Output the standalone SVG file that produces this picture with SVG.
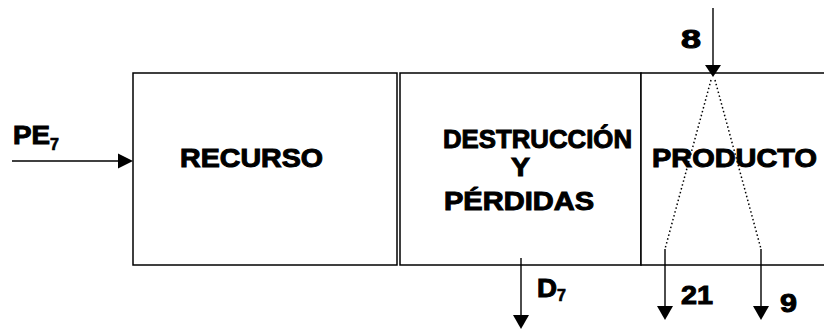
<svg xmlns="http://www.w3.org/2000/svg" width="824" height="329" viewBox="0 0 824 329">
<style>
.box{fill:#fff;stroke:#000;stroke-width:1.5}
.t{font-family:"Liberation Sans",Arial,sans-serif;font-weight:bold;font-size:26px;fill:#000;stroke:#000;stroke-width:1}
.sub{font-size:16px;stroke-width:0.7}
.ln{stroke:#000;stroke-width:1.4;fill:none}
.dot{stroke:#000;stroke-width:1.5;fill:none;stroke-dasharray:1.5 2.5}
.hd{fill:#000}
</style>
<rect width="824" height="329" fill="#fff"/>
<g id="recurso">
<rect class="box" x="133" y="73" width="264" height="192"/>
<text class="t" x="180" y="167" textLength="143" lengthAdjust="spacingAndGlyphs">RECURSO</text>
</g>
<g id="destruccion">
<rect class="box" x="400" y="73" width="241" height="192"/>
<text class="t" x="443" y="148" textLength="189" lengthAdjust="spacingAndGlyphs">DESTRUCCIÓN</text>
<text class="t" x="511" y="176" textLength="19" lengthAdjust="spacingAndGlyphs">Y</text>
<text class="t" x="444" y="210" textLength="150" lengthAdjust="spacingAndGlyphs">PÉRDIDAS</text>
</g>
<g id="producto">
<rect class="box" x="641" y="73" width="200" height="192"/>
<text class="t" x="652" y="167" textLength="165" lengthAdjust="spacingAndGlyphs">PRODUCTO</text>
</g>
<g id="connectors">
<line class="ln" x1="12" y1="161" x2="119" y2="161"/>
<polygon class="hd" points="118,153.5 118,168.5 133,161"/>
<line class="ln" x1="713" y1="8" x2="713" y2="66"/>
<polygon class="hd" points="705,65 721,65 713,77"/>
<line class="dot" x1="711" y1="80" x2="665" y2="249"/>
<line class="dot" x1="715" y1="80" x2="761" y2="249"/>
<line class="ln" x1="665" y1="249" x2="665" y2="307"/>
<polygon class="hd" points="657,306 673,306 665,320"/>
<line class="ln" x1="761" y1="249" x2="761" y2="307"/>
<polygon class="hd" points="753,306 769,306 761,320"/>
<line class="ln" x1="521" y1="258" x2="521" y2="316"/>
<polygon class="hd" points="513,315 529,315 521,329"/>
</g>
<g id="labels">
<text class="t" x="13" y="144" textLength="37" lengthAdjust="spacingAndGlyphs">PE</text>
<text class="t sub" x="50" y="150">7</text>
<text class="t" x="681" y="48" textLength="20" lengthAdjust="spacingAndGlyphs">8</text>
<text class="t" x="537" y="297" textLength="20" lengthAdjust="spacingAndGlyphs">D</text>
<text class="t sub" x="557" y="301">7</text>
<text class="t" x="681" y="304" textLength="32" lengthAdjust="spacingAndGlyphs">21</text>
<text class="t" x="780" y="312" textLength="17" lengthAdjust="spacingAndGlyphs">9</text>
</g>
</svg>
